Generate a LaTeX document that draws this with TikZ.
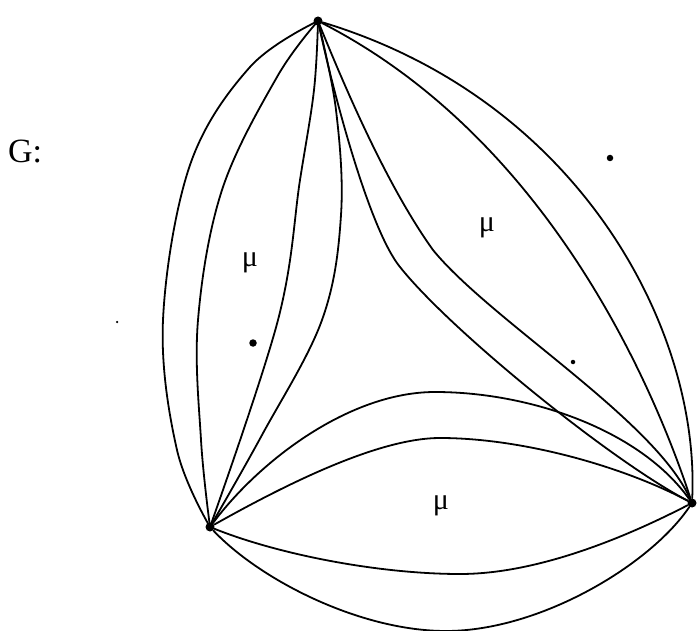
\documentclass[tikz,border=0pt]{standalone}
\usepackage{fontspec}
\setmainfont{Liberation Serif}
\begin{document}
\begin{tikzpicture}[x=1pt,y=-1pt,
  edge/.style={line width=1.8pt, black, line join=round, line cap=round},
  vtx/.style={circle, fill=black, inner sep=0pt, minimum size=9pt},
  spot/.style={circle, fill=black, inner sep=0pt},
  lbl/.style={font=\fontsize{30}{30}\selectfont, anchor=base, inner sep=0pt}]
\useasboundingbox (0,0) rectangle (699,631);

% vertices
\node[vtx] (T) at (318,21) {};
\node[vtx] (L) at (210,527) {};
\node[vtx] (R) at (692,503) {};

% helper points on some edges
\coordinate (b3m) at (400,267);
\coordinate (b4m) at (433,250);
\coordinate (c1m) at (435,392);
\coordinate (c2m) at (440,438);
\coordinate (c3m) at (460,574);
\coordinate (c4m) at (446,631);

% isolated dots
\node[spot, minimum size=6.5pt] (d1) at (610,158) {};
\node[spot, minimum size=7.5pt] (d2) at (253,343) {};
\node[spot, minimum size=4.5pt] (d3) at (573,362) {};
\node[spot, minimum size=2.5pt] (d4) at (117,322) {};

% T--L edges
\draw[edge] plot[smooth, tension=0.6] coordinates {(T) (250,67) (190,165) (163,320) (177,450) (L)};
\draw[edge] plot[smooth, tension=0.6] coordinates {(T) (277,77) (222,190) (198,320) (201,440) (L)};
\draw[edge] plot[smooth, tension=0.6] coordinates {(T) (314,90) (300,180) (278,320) (L)};
\draw[edge] plot[smooth, tension=0.6] coordinates {(T) (336,110) (341,215) (322,320) (262,435) (L)};

% T--R edges
\draw[edge] (T) .. controls (580,100) and (700,330) .. (R);
\draw[edge] (T) .. controls (550,140) and (655,390) .. (R);
\draw[edge] (T) .. controls (335,100) and (370,230) .. (b3m)
                .. controls (450,330) and (610,460) .. (R);
\draw[edge] (T) .. controls (350,100) and (390,190) .. (b4m)
                .. controls (490,320) and (655,420) .. (R);

% L--R edges
\draw[edge] (L) .. controls (260,460) and (350,392) .. (c1m)
                .. controls (530,392) and (640,430) .. (R);
\draw[edge] (L) .. controls (290,482) and (380,438) .. (c2m)
                .. controls (520,438) and (620,465) .. (R);
\draw[edge] (L) .. controls (280,555) and (380,574) .. (c3m)
                .. controls (540,574) and (630,535) .. (R);
\draw[edge] (L) .. controls (260,580) and (360,631) .. (c4m)
                .. controls (540,631) and (650,565) .. (R);

% labels
\node[lbl] (m1) at (250,266) {μ};
\node[lbl] (m2) at (487,232) {μ};
\node[lbl] (m3) at (441,509) {μ};
\node[font=\fontsize{34}{34}\selectfont, anchor=base west, inner sep=0pt] (G) at (8,163) {G:};
\end{tikzpicture}
\end{document}
